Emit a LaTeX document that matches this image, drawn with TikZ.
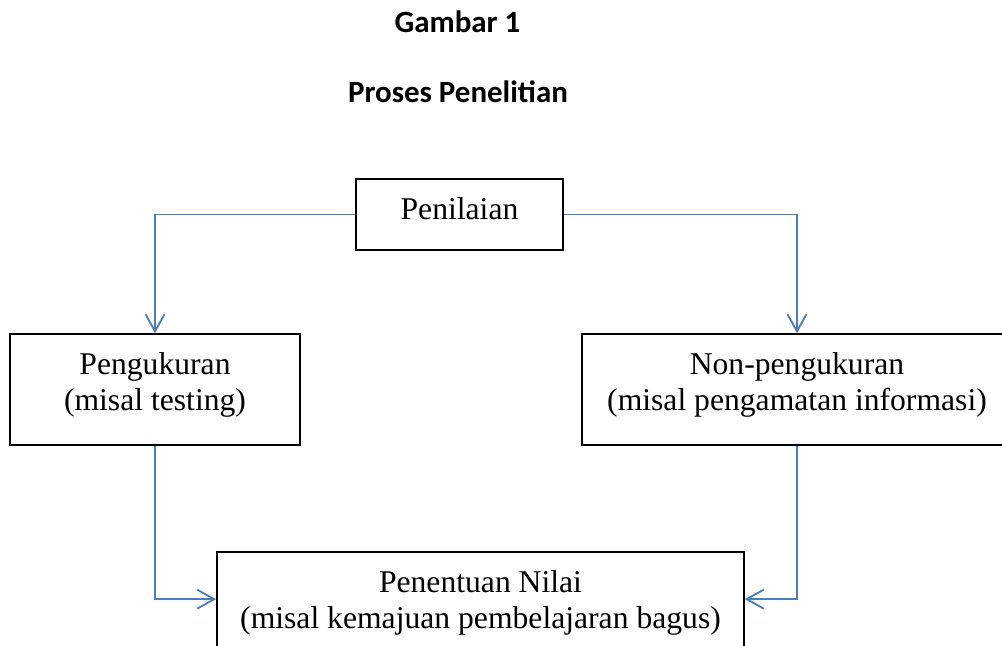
\documentclass[tikz,border=0pt]{standalone}
\usepackage{fontspec}
\setmainfont{Liberation Serif}
\newfontfamily\judulfont{Carlito}
\usetikzlibrary{arrows.meta}

\definecolor{biru}{HTML}{4A7EBB}

\tikzset{
	kotak/.style={draw=black, line width=1.2pt, inner sep=0pt, align=center,
		font=\fontsize{22.5}{25.6}\selectfont},
	satubaris/.style={kotak, text height=16pt, text depth=8.2pt},
	duabaris/.style={kotak, text height=41.6pt, text depth=12.4pt, minimum height=2.775cm},
	judul/.style={anchor=base, font=\judulfont\bfseries\fontsize{22}{26}\selectfont},
	panah/.style={draw=biru, line width=1.3pt,
		-{Straight Barb[length=4.25mm, width=4.75mm]}}
}

\begin{document}
\begin{tikzpicture}[x=0.025cm, y=-0.025cm]
	\useasboundingbox (0,0) rectangle (1002,646);
	\clip (0,0) rectangle (1002,646);

% Judul
	\node[judul] (gambar) at (457.5,32) {Gambar 1};
	\node[judul] (proses) at (458,102) {Proses Penelitian};

% Kotak
	\node[satubaris, minimum width=5.175cm, minimum height=1.775cm] (penilaian) at (459.5,214.5) {Penilaian};
	\node[duabaris, minimum width=7.25cm] (ukur) at (155,389.5) {Pengukuran\\(misal testing)};
	\node[duabaris, minimum width=10.75cm] (nonukur) at (797,389.5) {Non-pengukuran\\(misal pengamatan informasi)};
	\node[duabaris, minimum width=13.175cm] (nilai) at (480.5,607.5) {Penentuan Nilai\\(misal kemajuan pembelajaran bagus)};

% Panah
	\draw[panah] (penilaian.west) -| (ukur.north);
	\draw[panah] (penilaian.east) -| (nonukur.north);
	\draw[panah] (ukur.south) |- ([yshift=-1.2cm]nilai.north west);
	\draw[panah] (nonukur.south) |- ([yshift=-1.2cm]nilai.north east);
\end{tikzpicture}
\end{document}
